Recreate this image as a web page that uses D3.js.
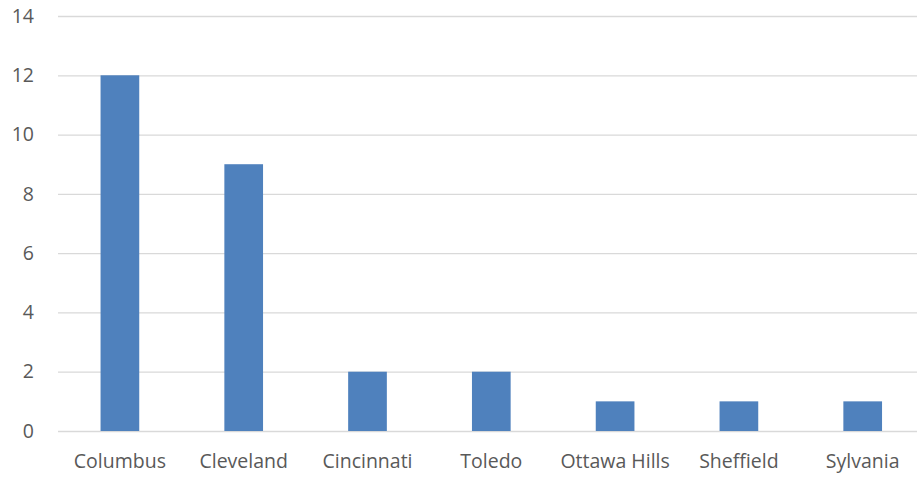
<!DOCTYPE html>
<html><head><meta charset="utf-8">
<script src="https://cdn.jsdelivr.net/npm/d3@7"></script>
<style>body{margin:0;background:#fff}svg{display:block}text{font-family:"Open Sans",sans-serif;fill:#595959}</style>
</head><body><svg id="c" width="917" height="478"></svg>
<script>
const categories = ["Columbus","Cleveland","Cincinnati","Toledo","Ottawa Hills","Sheffield","Sylvania"];
const values = [12,9,2,2,1,1,1];
const yTicks = [0,2,4,6,8,10,12,14];

(function(){
const svg = d3.select("#c");
const mL = 58, mR = 924.6, mT = 16, mB = 431;
const x = d3.scaleBand().domain(categories).range([mL,mR]).paddingInner(0.6875).paddingOuter(0.34375);
const y = d3.scaleLinear().domain([0,14]).range([mB,mT]);

const grid = svg.append("g").attr("transform",`translate(${mL},0)`)
  .call(d3.axisLeft(y).tickValues(yTicks).tickSize(-(mR-mL)).tickPadding(24).tickFormat(d3.format("d")));
grid.select(".domain").remove();
grid.selectAll("line").attr("stroke","#d9d9d9").attr("stroke-width",1.3);
grid.selectAll("text").attr("font-size",19.5).style("fill","#595959");

svg.append("g").selectAll("rect").data(values).join("rect")
  .attr("x",(d,i)=>x(categories[i])).attr("width",x.bandwidth())
  .attr("y",d=>y(d)).attr("height",d=>y(0)-y(d)).attr("fill","#4f81bd");

const xa = svg.append("g").attr("transform",`translate(0,${mB})`)
  .call(d3.axisBottom(x).tickSize(0).tickPadding(23));
xa.select(".domain").remove();
xa.selectAll("text").attr("font-size",19.5).style("fill","#595959");
})();
</script></body></html>
